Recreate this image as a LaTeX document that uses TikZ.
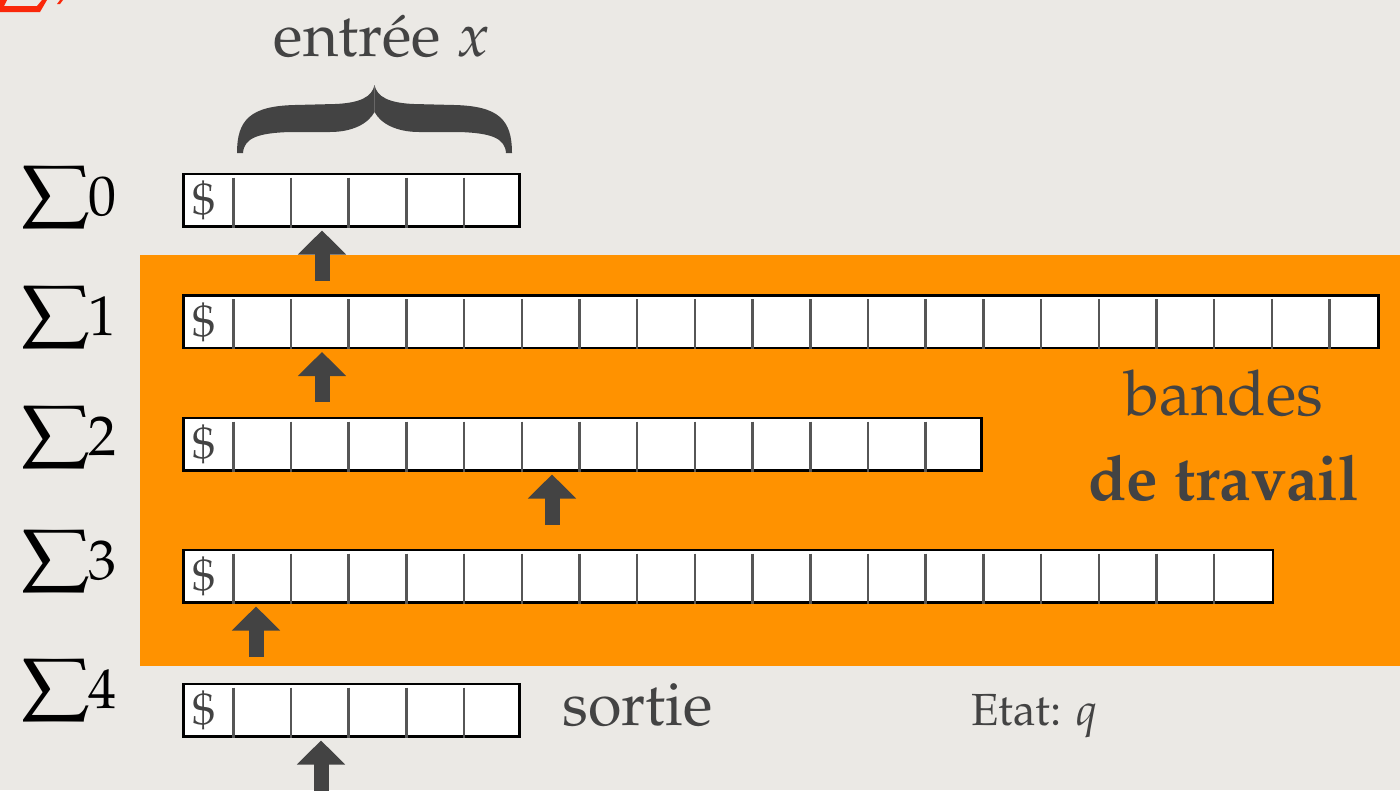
\documentclass[tikz,border=0pt]{standalone}
\usepackage[T1]{fontenc}
\usepackage{mathpazo}
\usetikzlibrary{arrows.meta}
\definecolor{fond}{RGB}{235,233,229}
\definecolor{bande}{RGB}{255,146,0}
\definecolor{gris}{RGB}{67,67,67}
\definecolor{rouge}{RGB}{250,40,10}

\begin{document}
\begin{tikzpicture}[x=1pt,y=-1pt,
	ruban/.style={draw=black,line width=2.5pt,fill=white,minimum height=52.5pt,inner sep=0pt,anchor=west},
	sep/.style={draw=gris!90!white,line width=2.5pt},
	tete/.style={draw=gris,line width=15pt,-{Triangle[width=47pt,length=24pt]}},
	sigma/.style={anchor=east,inner sep=0pt,font=\fontsize{56}{60}\selectfont},
	dollar/.style={text=gris,inner sep=0pt,font=\fontsize{46}{46}\selectfont},
	texte/.style={text=gris,inner sep=0pt,anchor=base}]
\useasboundingbox (0,0) rectangle (1400,790);
\fill[fond] (0,0) rectangle (1400,790);
% reste du titre, coupe par le bord
\fill[rouge] (0,0) -- (7,0) -- (4,6) -- (37,6) -- (42,0) -- (47,0) -- (40,12) -- (0,12) -- cycle;
\fill[rouge] (57,4) -- (60,4) -- (63,0) -- (60,0) -- cycle;
\fill[bande] (140,255) rectangle (1400,666);
% les bandes
\foreach \n/\y/\w/\k in {0/200/336/5, 1/321.5/1195/20, 2/444/798/13, 3/576/1089.5/18, 4/710/336/5}{
	\node[ruban,minimum width=\w pt] (t\n) at (182,\y) {};
	\foreach \i in {1,...,\k}
		\draw[sep] ([xshift={51.3pt+(\i-1)*57.7pt},yshift=-5pt]t\n.north west) -- ([xshift={51.3pt+(\i-1)*57.7pt}]t\n.south west);
	\node[dollar] (d\n) at ([xshift=22pt,yshift=-1pt]t\n.west) {\$};
}
\foreach \n/\y in {0/198,1/318,2/438,3/562,4/691}
	\node[sigma] (s\n) at (117,\y) {\scalebox{1.55}[1.25]{$\sum$}\n};
% les tetes de lecture
\foreach \n/\dx in {0/140,1/140,2/370,3/74,4/139}
	\draw[tete] ([xshift=\dx pt,yshift=-53pt]t\n.south west) -- ([xshift=\dx pt,yshift=-3pt]t\n.south west);
% accolade
\fill[gris] (237,153) .. controls (237,120) and (250,106) .. (295,105) -- (335,104) .. controls (360,103) and (372,97) .. (374.5,85) -- (374.5,112) .. controls (368,124) and (352,132) .. (330,132) -- (290,132) .. controls (258,133) and (244,138) .. (243,153) -- cycle;
\fill[gris,xshift=749pt,xscale=-1] (237,153) .. controls (237,120) and (250,106) .. (295,105) -- (335,104) .. controls (360,103) and (372,97) .. (374.5,85) -- (374.5,112) .. controls (368,124) and (352,132) .. (330,132) -- (290,132) .. controls (258,133) and (244,138) .. (243,153) -- cycle;
\node[texte,font=\fontsize{61}{64}\selectfont] (entree) at (382,56) {entr\'ee $x$};
\node[texte,font=\fontsize{63}{66}\selectfont] (bandes) at (1224,415) {bandes};
\node[texte,font=\fontsize{63}{66}\selectfont\bfseries] (travail) at (1224,500) {de travail};
\node[texte,anchor=base west,font=\fontsize{61}{64}\selectfont] (sortie) at (562,725) {sortie};
\node[texte,anchor=base west,font=\fontsize{45}{50}\selectfont] (etat) at (971,725) {Etat: $q$};
\end{tikzpicture}
\end{document}
